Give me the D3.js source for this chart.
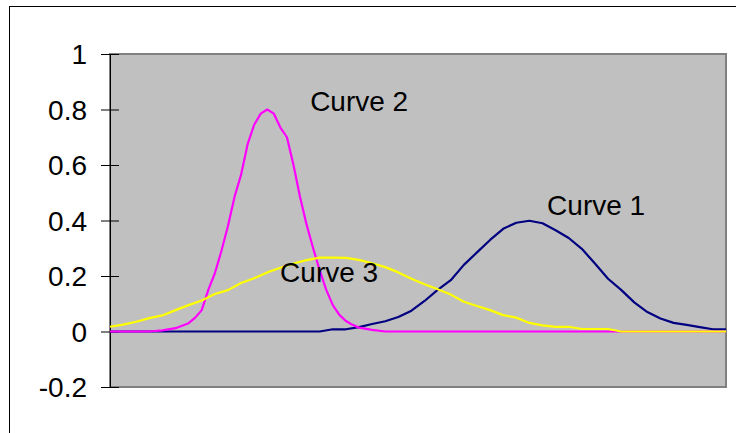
<!DOCTYPE html>
<html>
<head>
<meta charset="utf-8">
<script src="https://cdn.jsdelivr.net/npm/d3@7"></script>
<style>
  html, body { margin: 0; padding: 0; background: #fff; }
  svg { display: block; }
  text { font-family: "Liberation Sans", Arial, sans-serif; }
</style>
</head>
<body>
<svg id="chart" width="736" height="433"></svg>
<script>
// Sample positions shared by Curve 1 and Curve 3 (48 samples, 0..47)
const sampleIndex = d3.range(48);

const curve1Values = [
  0, 0, 0, 0, 0, 0, 0, 0, 0, 0,
  0, 0, 0, 0, 0, 0, 0, 0.008, 0.008, 0.016,
  0.027, 0.037, 0.052, 0.075, 0.11, 0.15, 0.185, 0.24, 0.285, 0.33,
  0.37, 0.392, 0.399, 0.39, 0.365, 0.337, 0.298, 0.245, 0.19, 0.15,
  0.105, 0.07, 0.047, 0.031, 0.024, 0.016, 0.008, 0.008
];

const curve3Values = [
  0.017, 0.025, 0.035, 0.048, 0.058, 0.077, 0.095, 0.112, 0.135, 0.149,
  0.175, 0.192, 0.213, 0.23, 0.245, 0.257, 0.266, 0.266, 0.265, 0.258,
  0.246, 0.232, 0.213, 0.19, 0.17, 0.152, 0.133, 0.107, 0.092, 0.077,
  0.059, 0.05, 0.031, 0.022, 0.017, 0.017, 0.009, 0.009, 0.009, 0,
  0, 0, 0, 0, 0, 0, 0, 0
];

// Curve 2 is sampled more finely around its peak
const curve2Index = [
  0, 1, 2, 3, 4, 5, 6, 6.5, 7, 7.5, 8, 8.5, 9, 9.5, 10, 10.5, 11, 11.5, 12, 12.5,
  13, 13.5, 14, 14.5, 15, 15.5, 16, 16.5, 17, 17.5, 18, 18.5, 19, 20, 21, 22, 23, 24,
  25, 26, 27, 28, 29, 30, 31, 32, 33, 34, 35, 36, 37, 38, 39, 40, 41, 42, 43, 44, 45, 46, 47
];
const curve2Values = [
  0, 0, 0, 0, 0.004, 0.012, 0.03, 0.05, 0.077, 0.15, 0.21, 0.29, 0.38, 0.485, 0.565, 0.675, 0.745, 0.785, 0.8, 0.785,
  0.735, 0.7, 0.6, 0.485, 0.385, 0.3, 0.22, 0.15, 0.095, 0.06, 0.038, 0.024, 0.014, 0.006, 0, 0, 0, 0,
  0, 0, 0, 0, 0, 0, 0, 0, 0, 0, 0, 0, 0, 0, 0, 0, 0, 0, 0, 0, 0, 0, 0
];

const yTicks = [-0.2, 0, 0.2, 0.4, 0.6, 0.8, 1];
const seriesNames = ["Curve 1", "Curve 2", "Curve 3"];
const seriesColors = ["#000080", "#ff00ff", "#ffff00"];

const svg = d3.select("#chart");

const plot = { left: 110, right: 726, top: 54, bottom: 387 };

const x = d3.scaleLinear().domain([0, 47]).range([plot.left, plot.right]);
const y = d3.scaleLinear().domain([-0.2, 1]).range([plot.bottom, plot.top]);

// Chart outer frame
svg.append("rect")
  .attr("x", 9.5).attr("y", 6.5)
  .attr("width", 740).attr("height", 440)
  .attr("fill", "#fff").attr("stroke", "#000").attr("stroke-width", 1);

// Plot area
svg.append("rect")
  .attr("x", plot.left).attr("y", plot.top)
  .attr("width", plot.right - plot.left).attr("height", plot.bottom - plot.top)
  .attr("fill", "#c0c0c0").attr("stroke", "#808080").attr("stroke-width", 2);

// Y axis with cross ticks
const yAxis = d3.axisLeft(y)
  .tickValues(yTicks)
  .tickSize(0)
  .tickFormat(d3.format("~g"));

const gy = svg.append("g")
  .attr("transform", `translate(${plot.left},0)`)
  .call(yAxis);
gy.select(".domain").remove();
gy.selectAll(".tick text")
  .attr("x", -23)
  .attr("dy", "0.35em")
  .attr("font-size", "28px")
  .attr("font-family", "'Liberation Sans', Arial, sans-serif")
  .attr("fill", "#000")
  .text(d => d3.format("~g")(d).replace("−", "-"));
gy.selectAll(".tick").append("line")
  .attr("x1", -9).attr("x2", 9)
  .attr("stroke", "#000").attr("stroke-width", 1);

svg.append("line")
  .attr("x1", plot.left + 0.5).attr("x2", plot.left + 0.5)
  .attr("y1", plot.top).attr("y2", plot.bottom)
  .attr("stroke", "#000").attr("stroke-width", 1);

// Series lines
const series = [
  { name: seriesNames[0], xs: sampleIndex, ys: curve1Values, color: seriesColors[0] },
  { name: seriesNames[1], xs: curve2Index, ys: curve2Values, color: seriesColors[1] },
  { name: seriesNames[2], xs: sampleIndex, ys: curve3Values, color: seriesColors[2] }
];

const line = d3.line()
  .x(d => x(d[0]))
  .y(d => y(d[1]));

svg.append("g").selectAll("path")
  .data(series)
  .join("path")
  .attr("d", s => line(s.xs.map((k, i) => [k, s.ys[i]])))
  .attr("fill", "none")
  .attr("stroke", s => s.color)
  .attr("stroke-width", 2.2)
  .attr("stroke-linejoin", "round");

// Curve name labels, placed in data units
const labelSpots = [
  { text: seriesNames[0], k: 33.35, v: 0.42 },
  { text: seriesNames[1], k: 15.27, v: 0.795 },
  { text: seriesNames[2], k: 12.98, v: 0.178 }
];

svg.append("g").selectAll("text")
  .data(labelSpots)
  .join("text")
  .attr("x", d => x(d.k))
  .attr("y", d => y(d.v))
  .attr("font-size", "28px")
  .attr("fill", "#000")
  .text(d => d.text);
</script>
</body>
</html>
